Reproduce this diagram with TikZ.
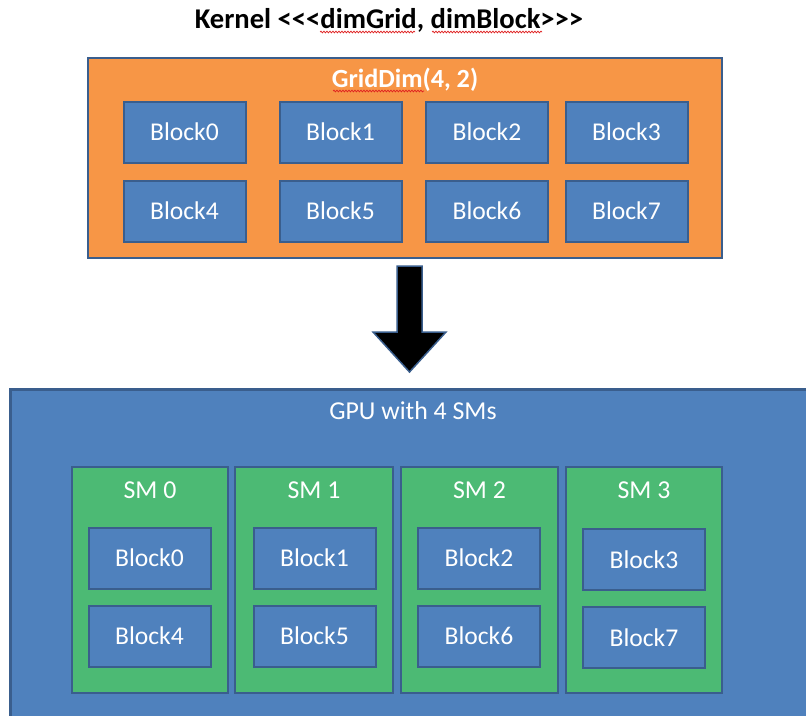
\documentclass[tikz,border=0pt]{standalone}
\usepackage{fontspec}
\newfontfamily\carlito{Carlito}
\usetikzlibrary{decorations.pathmorphing,calc}
\definecolor{gridorange}{HTML}{F79646}
\definecolor{boxblue}{HTML}{4F81BD}
\definecolor{edgeblue}{HTML}{3A5E8D}
\definecolor{smgreen}{HTML}{4CBA74}
\definecolor{spellred}{HTML}{E02020}
\begin{document}
\begin{tikzpicture}[x=1pt,y=-1pt,
  blk/.style={draw=edgeblue, fill=boxblue, line width=2pt, minimum width=122pt,
    minimum height=61pt, inner sep=0pt, text=white, font=\carlito\fontsize{25.6}{30}\selectfont},
  smbox/.style={draw=edgeblue, fill=smgreen, line width=2.5pt, minimum width=156pt,
    minimum height=226pt, inner sep=0pt},
  smlabel/.style={text=white, font=\carlito\fontsize{25.8}{30}\selectfont, inner sep=0pt},
  spell/.style={spellred, line width=0.7pt, decorate,
    decoration={snake, amplitude=0.9pt, segment length=3pt}}]
\useasboundingbox (0,0) rectangle (806,715);
\clip (0,0) rectangle (806,715);
\fill[white] (0,0) rectangle (806,715);

% kernel launch line
\node[font=\carlito\bfseries\fontsize{28.6}{34}\selectfont, inner sep=0pt] (kernel) at (389,20)
  {Kernel <<<dimGrid, dimBlock>>>};
\draw[spell] (320,32) -- (415,32);
\draw[spell] (432,32) -- (542,32);

% grid of blocks
\node[draw=edgeblue, fill=gridorange, line width=2.5pt, minimum width=634pt,
  minimum height=200pt, inner sep=0pt] (grid) at (405,158) {};
\node[text=white, font=\carlito\bfseries\fontsize{26.2}{30}\selectfont, inner sep=0pt]
  (gridlabel) at (405,80) {GridDim(4, 2)};
\draw[spell] (333,91) -- (424,91);

\node[blk] (g0) at (184.5,132) {Block0};
\node[blk] (g1) at (340.5,132) {Block1};
\node[blk] (g2) at (487,132) {Block2};
\node[blk] (g3) at (626.5,132) {Block3};
\node[blk] (g4) at (184.5,211) {Block4};
\node[blk] (g5) at (340.5,211) {Block5};
\node[blk] (g6) at (487,211) {Block6};
\node[blk] (g7) at (626.5,211) {Block7};

% block arrow from grid to GPU
\coordinate (atop) at (409.5,266);
\filldraw[fill=black, draw=edgeblue, line width=1.5pt, line join=miter]
  ($(atop)+(-12.5,0)$) -- ($(atop)+(12.5,0)$) -- ($(atop)+(12.5,66)$)
  -- ($(atop)+(36.5,66)$) -- ($(atop)+(0,106)$) -- ($(atop)+(-36.5,66)$)
  -- ($(atop)+(-12.5,66)$) -- cycle;

% GPU
\node[draw=edgeblue, fill=boxblue, line width=2.5pt, minimum width=820pt,
  minimum height=360pt, inner sep=0pt, anchor=north west] (gpu) at (9,388) {};
\node[smlabel] (gpulabel) at (413,411) {GPU with 4 SMs};

\node[smbox] (sm0) at (150,580) {};
\node[smbox, minimum width=158pt] (sm1) at (314,580) {};
\node[smbox, minimum width=157pt] (sm2) at (479.5,580) {};
\node[smbox] (sm3) at (644,580) {};
\node[smlabel] (sm0l) at (150,490) {SM 0};
\node[smlabel] (sm1l) at (314,490) {SM 1};
\node[smlabel] (sm2l) at (479.5,490) {SM 2};
\node[smlabel] (sm3l) at (644,490) {SM 3};

\node[blk] (s0a) at (149.5,558) {Block0};
\node[blk] (s0b) at (149.5,636) {Block4};
\node[blk] (s1a) at (314.5,558) {Block1};
\node[blk] (s1b) at (314.5,636) {Block5};
\node[blk] (s2a) at (479,558) {Block2};
\node[blk] (s2b) at (479,636) {Block6};
\node[blk] (s3a) at (644,559.5) {Block3};
\node[blk] (s3b) at (644,637.5) {Block7};
\end{tikzpicture}
\end{document}
